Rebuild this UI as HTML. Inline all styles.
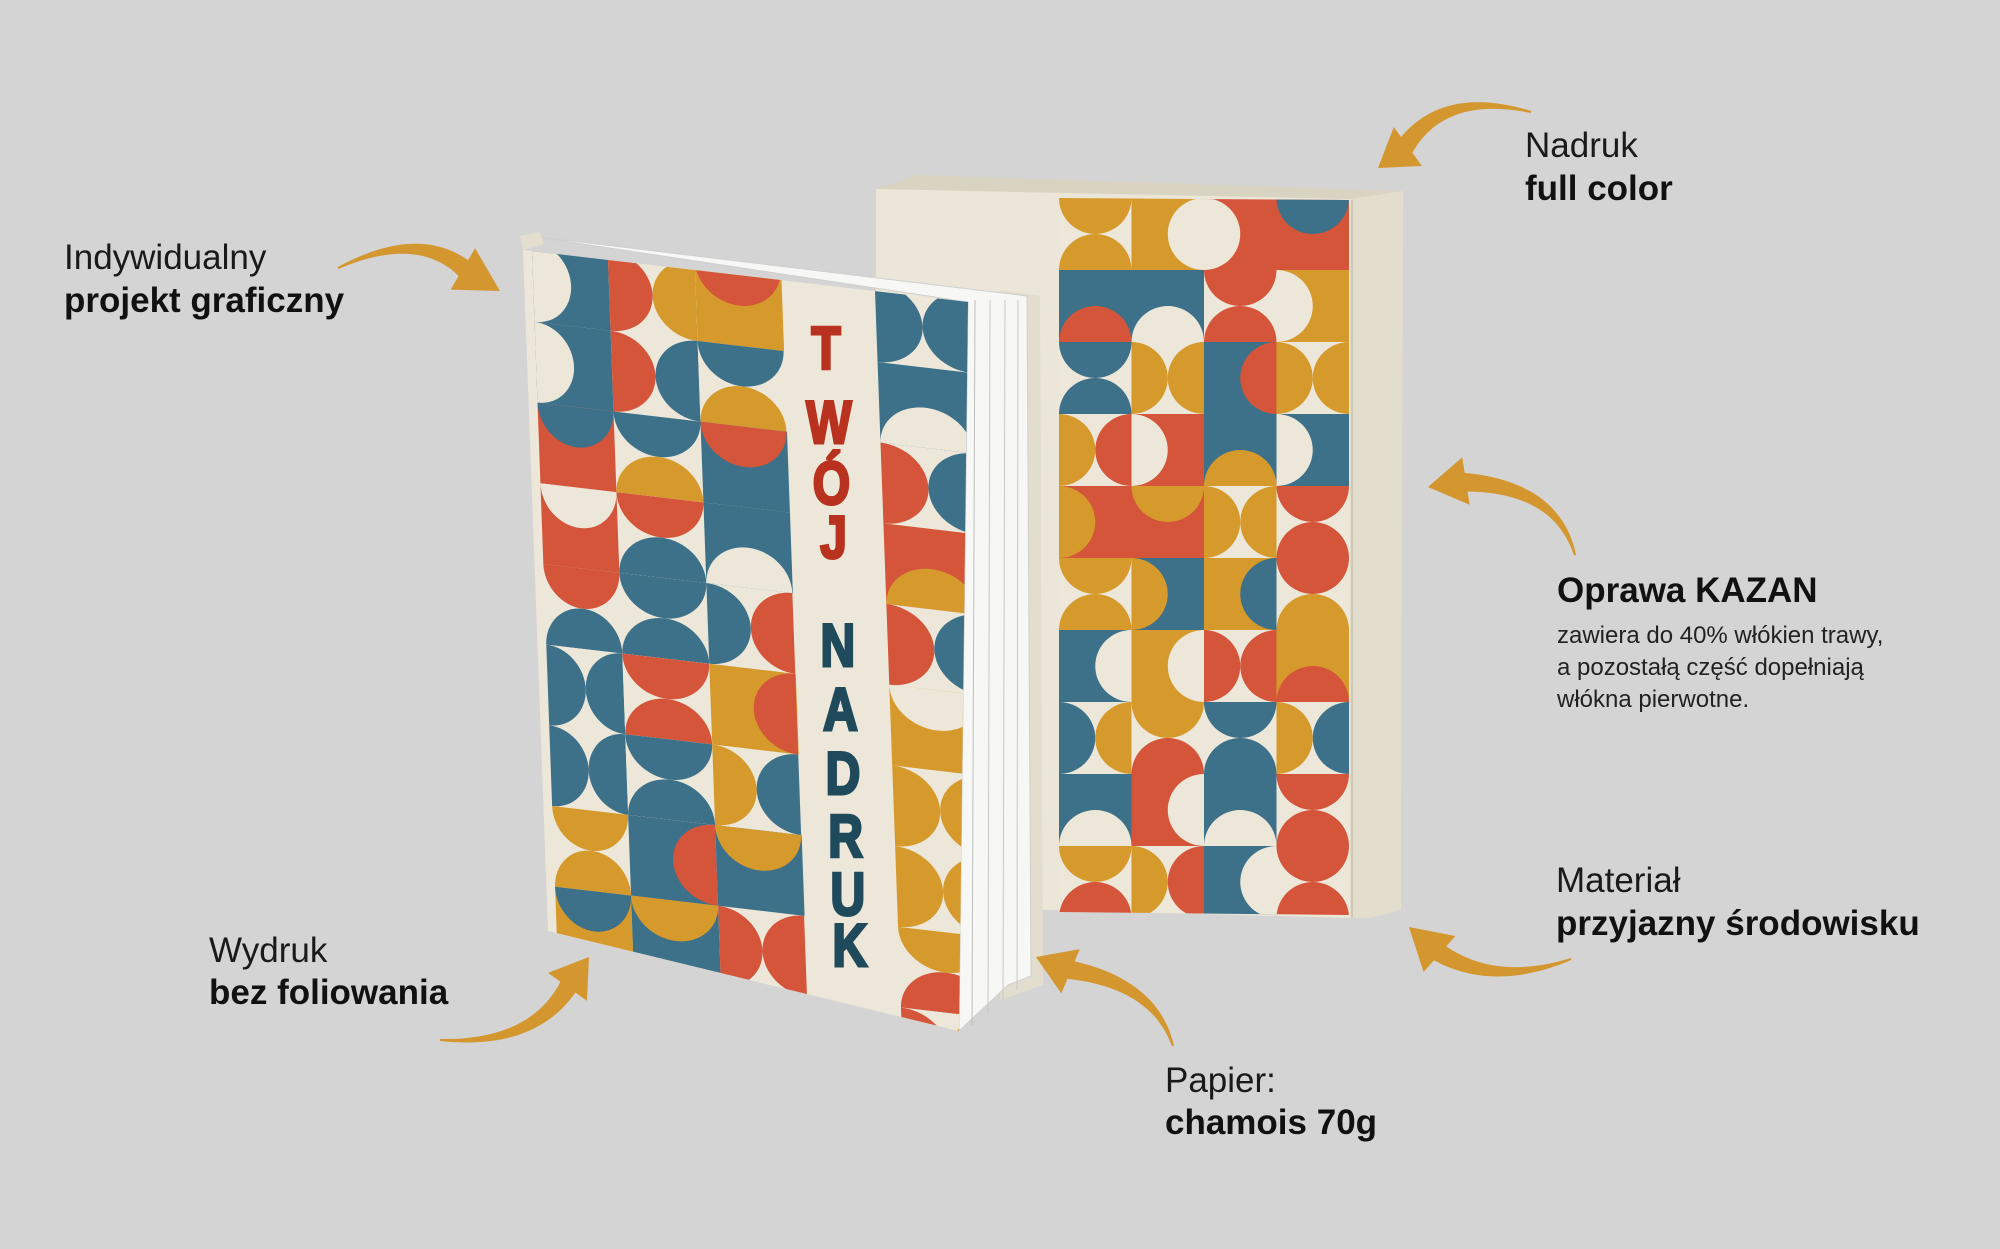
<!DOCTYPE html>
<html><head><meta charset="utf-8">
<style>
html,body{margin:0;padding:0;background:#d4d4d4;}
body{width:2000px;height:1249px;position:relative;overflow:hidden;font-family:"Liberation Sans","DejaVu Sans",sans-serif;color:#111;}
.lbl{position:absolute;font-size:35px;line-height:43px;white-space:nowrap;}
.lbl b{font-weight:bold;}
.lt{font-weight:normal;color:#1a1a1a;}
.desc{position:absolute;font-size:24px;line-height:32px;color:#222;white-space:nowrap;}
</style></head><body>
<svg id="s" width="2000" height="1249" viewBox="0 0 2000 1249" style="position:absolute;left:0;top:0">
<defs>
<clipPath id="backClip"><polygon points="1059,198 1349,200 1349,915 1059,912"/></clipPath>
<clipPath id="frontClip"><polygon points="523,250 968,302 959,1031 548,931"/></clipPath>
</defs>
<polygon points="876,189 918,175 1403,191 1350,200" fill="#d9d3c2"/>
<polygon points="876,189 1350,199 1350,918 876,905" fill="#ebe6d8"/>
<polygon points="1350,199 1403,191 1401,910 1371,918 1350,918" fill="#e3ddcd"/>
<line x1="1352" y1="200" x2="1352" y2="918" stroke="#cfc8b6" stroke-width="2"/>
<g id="backPat" clip-path="url(#backClip)"></g>
<polygon points="1000,290 1040,296 1043,985 1000,1000" fill="#e2ddcd"/>
<polygon points="530,236 1027,296 1031,976 1008,985 959,1031 968,302" fill="#f7f7f5" stroke="#cfcfcf" stroke-width="1"/>
<line x1="975" y1="300" x2="972" y2="1025" stroke="#bdbdbd" stroke-width="1"/>
<line x1="990" y1="300" x2="988" y2="1012" stroke="#c8c8c8" stroke-width="1"/>
<line x1="1005" y1="300" x2="1003" y2="1000" stroke="#c8c8c8" stroke-width="1"/>
<line x1="1018" y1="300" x2="1017" y2="990" stroke="#c8c8c8" stroke-width="1"/>
<polygon points="520,236 540,232 544,244 523,250" fill="#e4dece"/>
<polygon points="523,250 968,302 959,1031 548,931" fill="#ece7d9"/>
<g clip-path="url(#frontClip)"><g id="frontPat" transform="matrix(1.0,0.1169,0.0357,0.984,523,250)"></g></g>
<g id="letters" font-family="Liberation Sans, DejaVu Sans, sans-serif" font-weight="bold" text-anchor="middle"></g>
<g id="arrows" fill="#d4962e"></g>
</svg>

<div class="lbl lt" style="left:64px;top:236px">Indywidualny</div>
<div class="lbl" style="left:64px;top:279px"><b>projekt graficzny</b></div>

<div class="lbl lt" style="left:1525px;top:124px">Nadruk</div>
<div class="lbl" style="left:1525px;top:167px"><b>full color</b></div>

<div class="lbl" style="left:1557px;top:569px"><b>Oprawa KAZAN</b></div>
<div class="desc" style="left:1557px;top:620px">zawiera do 40% włókien trawy,<br>a pozostałą część dopełniają<br>włókna pierwotne.</div>

<div class="lbl lt" style="left:1556px;top:859px">Materiał</div>
<div class="lbl" style="left:1556px;top:902px"><b>przyjazny środowisku</b></div>

<div class="lbl lt" style="left:209px;top:929px">Wydruk</div>
<div class="lbl" style="left:209px;top:971px"><b>bez foliowania</b></div>

<div class="lbl lt" style="left:1165px;top:1059px">Papier:</div>
<div class="lbl" style="left:1165px;top:1101px"><b>chamois 70g</b></div>

<script>
var NS="http://www.w3.org/2000/svg";
var C=["#d4553a","#d69a2c","#3d7089","#ece7d9"];
var seed=11;function rnd(){seed=(seed*9301+49297)%233280;return seed/233280;}
function el(p,tag,a){var e=document.createElementNS(NS,tag);for(var k in a)e.setAttribute(k,a[k]);p.appendChild(e);return e;}
function semi(g,x,y,w,h,o,fill){
  var rx=w/2,ry=h/2,d;
  if(o==0){d="M"+x+","+y+" A"+rx+","+ry+" 0 0 0 "+(x+w)+","+y+" Z";}
  else if(o==1){d="M"+x+","+(y+h)+" A"+rx+","+ry+" 0 0 1 "+(x+w)+","+(y+h)+" Z";}
  else if(o==2){d="M"+x+","+y+" A"+rx+","+ry+" 0 0 1 "+x+","+(y+h)+" Z";}
  else{d="M"+(x+w)+","+y+" A"+rx+","+ry+" 0 0 0 "+(x+w)+","+(y+h)+" Z";}
  el(g,"path",{d:d,fill:fill});
}
function cell(g,x,y,w,h){
  var cols=["#d4553a","#d69a2c","#3d7089"];
  var a=cols[Math.floor(rnd()*3)], b;
  do{b=cols[Math.floor(rnd()*3)];}while(b==a);
  var o=Math.floor(rnd()*2);
  el(g,"rect",{x:x,y:y,width:w+0.5,height:h+0.5,fill:"#ece7d9"});
  if(rnd()<0.55){
    // two half discs on opposite edges (bowtie / circle-gap)
    if(o==0){semi(g,x,y,w,h,0,a);semi(g,x,y,w,h,1,rnd()<0.5?a:b);}
    else{semi(g,x,y,w,h,2,a);semi(g,x,y,w,h,3,rnd()<0.5?a:b);}
  } else {
    el(g,"rect",{x:x,y:y,width:w+0.5,height:h+0.5,fill:a});
    semi(g,x,y,w,h,Math.floor(rnd()*4),rnd()<0.5?"#ece7d9":b);
  }
}
var bp=document.getElementById("backPat");
var bw=72.5;
for(var c=0;c<4;c++)for(var r=0;r<10;r++)cell(bp,1059+c*bw,198+r*72,bw,72);
var fp=document.getElementById("frontPat");
var cols=[[9,85],[85,172],[172,258],[352,445]];
for(var i=0;i<cols.length;i++){for(var r=0;r<10;r++)cell(fp,cols[i][0],r*82-10,cols[i][1]-cols[i][0],82);}
var L=document.getElementById("letters");
var lt=[["T",347,"#b8321f"],["W",421,"#b8321f"],["Ó",482,"#b8321f"],["J",536,"#b8321f"],
["N",644,"#1f4a5c"],["A",708,"#1f4a5c"],["D",772,"#1f4a5c"],["R",835,"#1f4a5c"],["U",893,"#1f4a5c"],["K",944,"#1f4a5c"]];
for(var i=0;i<lt.length;i++){var x=826+(lt[i][1]-347)*0.04;
 var t=el(L,"text",{x:0,y:0,fill:lt[i][2],stroke:lt[i][2],"stroke-width":"3","font-size":"60",transform:"translate("+x+","+(lt[i][1]+22)+") scale(0.8,1)"});t.textContent=lt[i][0];}
var A=document.getElementById("arrows");
function arrow(p0,c,p1,tip){
 var n=30,left=[],right=[];
 for(var i=0;i<=n;i++){var t=i/n;
  var x=(1-t)*(1-t)*p0[0]+2*(1-t)*t*c[0]+t*t*p1[0];
  var y=(1-t)*(1-t)*p0[1]+2*(1-t)*t*c[1]+t*t*p1[1];
  var dx=2*(1-t)*(c[0]-p0[0])+2*t*(p1[0]-c[0]);
  var dy=2*(1-t)*(c[1]-p0[1])+2*t*(p1[1]-c[1]);
  var l=Math.hypot(dx,dy);var nx=-dy/l,ny=dx/l;var w=(1+t*8.5);
  left.push([x+nx*w,y+ny*w]);right.unshift([x-nx*w,y-ny*w]);}
 var pts=left.concat(right).map(function(p){return p[0].toFixed(1)+","+p[1].toFixed(1)}).join(" ");
 el(A,"polygon",{points:pts});
 var dx=tip[0]-p1[0],dy=tip[1]-p1[1],l=Math.hypot(dx,dy);var nx=-dy/l,ny=dx/l,hw=24;
 var bx=p1[0]-dx/l*6,by=p1[1]-dy/l*6;
 el(A,"polygon",{points:tip[0]+","+tip[1]+" "+(bx+nx*hw)+","+(by+ny*hw)+" "+(bx-nx*hw)+","+(by-ny*hw)});
}
arrow([338,268],[421,228],[468,272],[500,291]);
arrow([1531,112],[1441,89],[1403,150],[1378,168]);
arrow([1575,555],[1556,485],[1460,482],[1428,487]);
arrow([1571,959],[1492,988],[1435,950],[1409,927]);
arrow([1173,1046],[1154,982],[1065,969],[1036,957]);
arrow([440,1040],[536,1046],[571,982],[589,957]);
</script>
</body></html>
